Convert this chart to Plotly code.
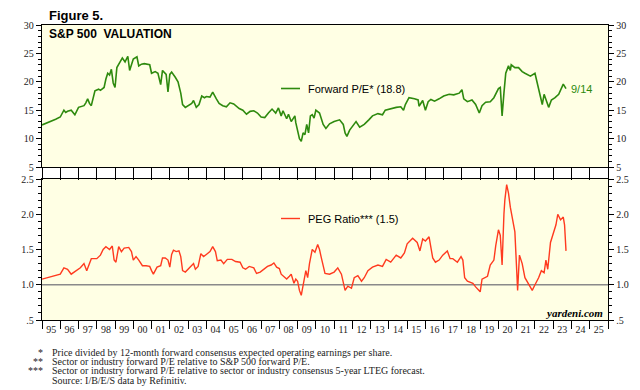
import plotly.graph_objects as go

# ---------------- data ----------------
pe_t = [1995.0, 1995.25, 1995.5, 1995.75, 1996.0, 1996.2, 1996.3, 1996.4, 1996.6, 1996.8, 1997.0, 1997.15,
        1997.3, 1997.4, 1997.5, 1997.6, 1997.7, 1997.9, 1998.1, 1998.2, 1998.4, 1998.5, 1998.6, 1998.7,
        1998.8, 1998.9, 1999.0, 1999.1, 1999.3, 1999.4, 1999.55, 1999.7, 1999.8, 1999.9, 2000.0, 2000.2,
        2000.3, 2000.45, 2000.6, 2000.9, 2001.0, 2001.2, 2001.35, 2001.5, 2001.6, 2001.8, 2001.9, 2002.0,
        2002.1, 2002.3, 2002.45, 2002.6, 2002.7, 2002.85, 2003.0, 2003.2, 2003.3, 2003.45, 2003.6, 2003.75,
        2003.9, 2004.0, 2004.2, 2004.35, 2004.55, 2004.7, 2004.9, 2005.1, 2005.3, 2005.5, 2005.8, 2006.0,
        2006.2, 2006.4, 2006.6, 2006.8, 2007.0, 2007.2, 2007.4, 2007.6, 2007.8, 2007.95, 2008.1, 2008.2,
        2008.4, 2008.5, 2008.65, 2008.75, 2008.85, 2008.9, 2009.0, 2009.1, 2009.2, 2009.3, 2009.4, 2009.5,
        2009.6, 2009.7, 2009.8, 2009.9, 2010.0, 2010.2, 2010.4, 2010.55, 2010.75, 2011.0, 2011.3, 2011.5,
        2011.6, 2011.7, 2011.85, 2012.0, 2012.2, 2012.4, 2012.65, 2012.9, 2013.1, 2013.4, 2013.65, 2013.8,
        2014.1, 2014.4, 2014.65, 2014.8, 2014.9, 2015.1, 2015.4, 2015.6, 2015.65, 2015.85, 2016.0, 2016.15,
        2016.3, 2016.5, 2016.75, 2017.0, 2017.3, 2017.55, 2017.85, 2018.0, 2018.1, 2018.3, 2018.55, 2018.75,
        2018.95, 2019.1, 2019.3, 2019.55, 2019.75, 2020.0, 2020.1, 2020.2, 2020.3, 2020.4, 2020.55, 2020.65,
        2020.7, 2020.9, 2021.1, 2021.3, 2021.45, 2021.75, 2022.0, 2022.1, 2022.2, 2022.3, 2022.4, 2022.5,
        2022.65, 2022.75, 2022.9, 2023.1, 2023.3, 2023.4, 2023.55, 2023.7]
pe_v = [12.4, 12.7, 13.0, 13.4, 13.8, 15.0, 14.6, 14.8, 15.0, 14.2, 15.5, 15.7,
        15.8, 16.3, 17.0, 16.2, 15.8, 18.4, 18.7, 18.5, 19.0, 20.5, 21.5, 21.2,
        22.2, 19.8, 19.0, 22.5, 23.5, 24.2, 23.5, 24.5, 22.0, 23.2, 24.0, 24.4,
        22.8, 23.1, 23.2, 23.0, 21.5, 21.8, 21.5, 19.5, 22.0, 21.3, 18.2, 21.3,
        21.7, 20.8, 20.0, 18.0, 16.0, 15.5, 15.8, 16.2, 16.7, 15.5, 16.0, 17.5,
        17.2, 17.4, 17.3, 18.2, 17.0, 16.2, 15.8, 15.6, 16.3, 16.1, 15.3, 15.0,
        14.3, 14.8, 14.9, 14.5, 13.8, 13.7, 14.5, 15.2, 14.5, 15.4, 14.0, 14.9,
        13.5, 14.3, 13.0, 13.5, 14.0, 12.8, 11.5, 10.0, 9.5, 11.0, 10.7, 12.5,
        11.0, 14.0, 14.2, 13.6, 15.0, 14.5, 12.5, 11.8, 12.6, 13.0, 13.3, 12.5,
        11.0, 10.4, 11.5, 12.2, 13.0, 12.0, 12.5, 13.3, 14.0, 14.4, 14.2, 15.0,
        15.3, 15.5, 15.6, 15.0, 16.0, 17.2, 17.0, 16.8, 15.7, 16.7, 15.0, 16.5,
        16.9, 16.6, 17.0, 17.5, 17.8, 17.7, 18.0, 18.6, 17.0, 16.5, 16.8, 16.0,
        14.5, 15.8, 16.4, 16.5, 17.2, 18.8, 19.0, 14.0, 18.0, 21.5, 22.8, 22.0,
        23.0, 22.5, 22.5, 21.8, 21.5, 21.0, 21.5, 20.0, 19.0, 17.5, 16.0, 17.8,
        16.5, 15.5, 16.8, 17.2, 17.8, 18.5, 19.6, 18.8]

peg_t = [1995.0, 1995.5, 1996.0, 1996.2, 1996.4, 1996.6, 1996.9, 1997.1, 1997.3, 1997.45, 1997.7, 1998.0,
         1998.2, 1998.35, 1998.5, 1998.7, 1998.85, 1998.95, 1999.05, 1999.2, 1999.35, 1999.5, 1999.75,
         1999.9, 2000.0, 2000.15, 2000.3, 2000.5, 2000.7, 2000.9, 2001.0, 2001.1, 2001.3, 2001.5, 2001.6,
         2001.75, 2001.9, 2002.0, 2002.1, 2002.2, 2002.35, 2002.5, 2002.6, 2002.7, 2002.85, 2003.0,
         2003.15, 2003.3, 2003.4, 2003.55, 2003.7, 2003.85, 2004.0, 2004.2, 2004.35, 2004.5, 2004.6,
         2004.8, 2004.95, 2005.15, 2005.4, 2005.6, 2005.85, 2006.0, 2006.15, 2006.35, 2006.6, 2006.75,
         2006.95, 2007.15, 2007.35, 2007.55, 2007.7, 2007.85, 2008.0, 2008.1, 2008.25, 2008.4, 2008.55,
         2008.65, 2008.8, 2008.9, 2009.0, 2009.1, 2009.2, 2009.3, 2009.45, 2009.55, 2009.65, 2009.8,
         2009.95, 2010.1, 2010.2, 2010.3, 2010.5, 2010.75, 2011.0, 2011.2, 2011.4, 2011.6, 2011.75,
         2011.95, 2012.1, 2012.3, 2012.5, 2012.65, 2012.85, 2013.1, 2013.4, 2013.65, 2013.85, 2014.1,
         2014.4, 2014.65, 2014.85, 2015.0, 2015.3, 2015.55, 2015.7, 2015.85, 2016.0, 2016.2, 2016.3,
         2016.4, 2016.55, 2016.75, 2016.95, 2017.2, 2017.35, 2017.5, 2017.75, 2017.95, 2018.05, 2018.15,
         2018.3, 2018.6, 2018.75, 2019.0, 2019.1, 2019.4, 2019.55, 2019.75, 2019.85, 2020.0, 2020.1,
         2020.2, 2020.3, 2020.35, 2020.45, 2020.55, 2020.65, 2020.75, 2020.9, 2021.0, 2021.05, 2021.15,
         2021.3, 2021.45, 2021.65, 2021.85, 2022.0, 2022.2, 2022.35, 2022.5, 2022.6, 2022.7, 2022.85,
         2023.05, 2023.15, 2023.25, 2023.4, 2023.55, 2023.62, 2023.7]
peg_v = [1.08, 1.12, 1.15, 1.24, 1.22, 1.15, 1.20, 1.24, 1.30, 1.20, 1.37, 1.37,
         1.42, 1.50, 1.54, 1.50, 1.55, 1.35, 1.32, 1.54, 1.47, 1.52, 1.53,
         1.47, 1.35, 1.40, 1.35, 1.27, 1.27, 1.26, 1.20, 1.15, 1.25, 1.27, 1.38,
         1.38, 1.35, 1.25, 1.43, 1.49, 1.47, 1.48, 1.40, 1.20, 1.18, 1.22,
         1.25, 1.30, 1.22, 1.26, 1.44, 1.40, 1.43, 1.47, 1.54, 1.47, 1.34,
         1.35, 1.30, 1.36, 1.36, 1.33, 1.32, 1.24, 1.22, 1.26, 1.24, 1.16,
         1.18, 1.22, 1.26, 1.28, 1.31, 1.25, 1.23, 1.15, 1.12, 1.08, 1.12,
         1.15, 1.02, 1.08, 1.05, 0.92, 0.85, 0.98, 1.20, 1.10, 1.30, 1.50,
         1.46, 1.57, 1.50, 1.38, 1.16, 1.15, 1.18, 1.24, 1.15, 0.92, 0.98,
         0.95, 1.10, 1.13, 1.05, 1.10, 1.20, 1.25, 1.28, 1.26, 1.36, 1.32,
         1.42, 1.38, 1.45, 1.58, 1.66, 1.60, 1.48, 1.65, 1.62, 1.68, 1.55,
         1.38, 1.32, 1.35, 1.42, 1.48, 1.37, 1.37, 1.32, 1.40, 1.35, 1.10,
         1.05, 1.02, 0.97, 0.90, 1.08, 1.12, 1.28, 1.35, 1.55, 1.78, 1.70,
         1.28, 2.00, 2.20, 2.42, 2.30, 2.10, 1.95, 1.75, 1.20, 0.92, 1.42,
         1.30, 1.10, 1.00, 0.92, 1.00, 1.10, 1.20, 1.17, 1.35, 1.22, 1.60,
         1.75, 1.85, 2.00, 1.92, 1.96, 1.85, 1.48]

years = list(range(1995, 2027))
year_labels = [f"{y % 100:02d}" for y in range(1995, 2026)]
pe_ticks = [5, 10, 15, 20, 25, 30]
peg_ticks = [0.5, 1.0, 1.5, 2.0, 2.5]
peg_ticktext = [".5", "1.0", "1.5", "2.0", "2.5"]

footnote_marks = ["*", "**", "***", ""]
footnote_texts = ["Price divided by 12-month forward consensus expected operating earnings per share.",
                  "Sector or industry forward P/E relative to S&P 500 forward P/E.",
                  "Sector or industry forward P/E relative to sector or industry consensus 5-year LTEG forecast.",
                  "Source: I/B/E/S data by Refinitiv."]

GREEN = "#2E8A0E"
RED = "#FF3A1F"
BG = "#FFFFE4"
SERIF = "Liberation Serif"
SANS = "Liberation Sans"

W, H = 640, 390
L, R, T, B = 42, 32, 25, 70
PW, PH = W - L - R, H - T - B


def px(x):
    return (x - L) / PW


def py(y):
    return (H - B - y) / PH


top_dom = [py(167), 1.0]
bot_dom = [0.0, py(179)]

fig = go.Figure()
fig.add_trace(go.Scatter(x=pe_t, y=pe_v, xaxis="x", yaxis="y", mode="lines",
                         line=dict(color=GREEN, width=1.6), showlegend=False, hoverinfo="skip"))
fig.add_trace(go.Scatter(x=peg_t, y=peg_v, xaxis="x2", yaxis="y2", mode="lines",
                         line=dict(color=RED, width=1.4), showlegend=False, hoverinfo="skip"))
fig.add_trace(go.Scatter(x=[None], y=[None], xaxis="x", yaxis="y3", mode="lines",
                         showlegend=False, hoverinfo="skip"))
fig.add_trace(go.Scatter(x=[None], y=[None], xaxis="x2", yaxis="y4", mode="lines",
                         showlegend=False, hoverinfo="skip"))

tickfont = dict(family=SERIF, size=10, color="#222")
common_y = dict(showline=True, linecolor="black", linewidth=1.3, ticks="outside", ticklen=5,
                tickcolor="black", showgrid=False, zeroline=False, tickfont=tickfont, automargin=False)

fig.update_layout(
    width=W, height=H, margin=dict(l=L, r=R, t=T, b=B, autoexpand=False),
    paper_bgcolor="white", plot_bgcolor=BG, showlegend=False,
    xaxis=dict(domain=[0, 1], anchor="y", range=[1995, 2026], tickmode="array", tickvals=years,
               ticks="outside", ticklen=12, tickcolor="black", showticklabels=False,
               showline=True, linecolor="black", linewidth=1.3, mirror=True,
               showgrid=False, zeroline=False),
    yaxis=dict(domain=top_dom, anchor="x", range=[5, 30], tickmode="array", tickvals=pe_ticks,
               minor=dict(tickvals=list(range(5, 31)), ticks="outside", ticklen=3, tickcolor="black"),
               mirror=True, **common_y),
    yaxis3=dict(overlaying="y", side="right", anchor="x", range=[5, 30], tickmode="array",
                tickvals=pe_ticks,
                minor=dict(tickvals=list(range(5, 31)), ticks="outside", ticklen=3, tickcolor="black"),
                **common_y),
    xaxis2=dict(domain=[0, 1], anchor="y2", range=[1995, 2026], tickmode="array",
                tickvals=[y + 0.5 for y in range(1995, 2026)], ticktext=year_labels, ticks="",
                minor=dict(tickvals=years, ticks="outside", ticklen=8, tickcolor="black"),
                showline=True, linecolor="black", linewidth=1.3, mirror=True,
                showgrid=False, zeroline=False, tickfont=tickfont),
    yaxis2=dict(domain=bot_dom, anchor="x2", range=[0.5, 2.5], tickmode="array", tickvals=peg_ticks,
                ticktext=peg_ticktext,
                minor=dict(tickvals=[round(0.5 + 0.1 * i, 2) for i in range(21)], ticks="outside",
                           ticklen=3, tickcolor="black"),
                mirror=True, **common_y),
    yaxis4=dict(overlaying="y2", side="right", anchor="x2", range=[0.5, 2.5], tickmode="array",
                tickvals=peg_ticks, ticktext=peg_ticktext,
                minor=dict(tickvals=[round(0.5 + 0.1 * i, 2) for i in range(21)], ticks="outside",
                           ticklen=3, tickcolor="black"),
                **common_y),
)

# reference line at 1.0
fig.add_shape(type="line", xref="x2 domain", yref="y2", x0=0, x1=1, y0=1.0, y1=1.0,
              line=dict(color="#8A8A8A", width=1.3), layer="below")

# legend-like labels
fig.add_shape(type="line", xref="paper", yref="paper", x0=px(281), x1=px(300), y0=py(88.5), y1=py(88.5),
              line=dict(color=GREEN, width=1.6))
fig.add_shape(type="line", xref="paper", yref="paper", x0=px(281), x1=px(300), y0=py(218.5), y1=py(218.5),
              line=dict(color=RED, width=1.4))

ann = []
ann.append(dict(text="<b>Figure 5.</b>", x=px(47), y=py(15), xanchor="left", yanchor="middle",
                font=dict(family=SANS, size=13, color="black")))
ann.append(dict(text="<b>S&amp;P 500  VALUATION</b>", x=px(47), y=py(34), xanchor="left", yanchor="middle",
                font=dict(family=SANS, size=12, color="black")))
ann.append(dict(text="Forward P/E* (18.8)", x=px(306), y=py(88.5), xanchor="left", yanchor="middle",
                font=dict(family=SANS, size=11, color="black")))
ann.append(dict(text="PEG Ratio*** (1.5)", x=px(306), y=py(218.5), xanchor="left", yanchor="middle",
                font=dict(family=SANS, size=11, color="black")))
ann.append(dict(text="9/14", x=px(569), y=py(89), xanchor="left", yanchor="middle",
                font=dict(family=SANS, size=11, color=GREEN)))
ann.append(dict(text="<b><i>yardeni.com</i></b>", x=px(605), y=py(313), xanchor="right", yanchor="middle",
                font=dict(family=SERIF, size=11, color="black")))
for i, (m, t) in enumerate(zip(footnote_marks, footnote_texts)):
    yy = py(352 + i * 9.4)
    if m:
        ann.append(dict(text=m, x=px(44), y=yy, xanchor="right", yanchor="middle", borderpad=0,
                        font=dict(family=SERIF, size=10, color="#222")))
    ann.append(dict(text=t, x=px(51), y=yy, xanchor="left", yanchor="middle", borderpad=0,
                    font=dict(family=SERIF, size=10, color="#222")))
for a in ann:
    a.update(xref="paper", yref="paper", showarrow=False)
fig.update_layout(annotations=ann)

fig.write_html("out.html", config={"displayModeBar": False},
               post_script="document.body.style.margin='0';document.body.style.overflow='hidden';")
